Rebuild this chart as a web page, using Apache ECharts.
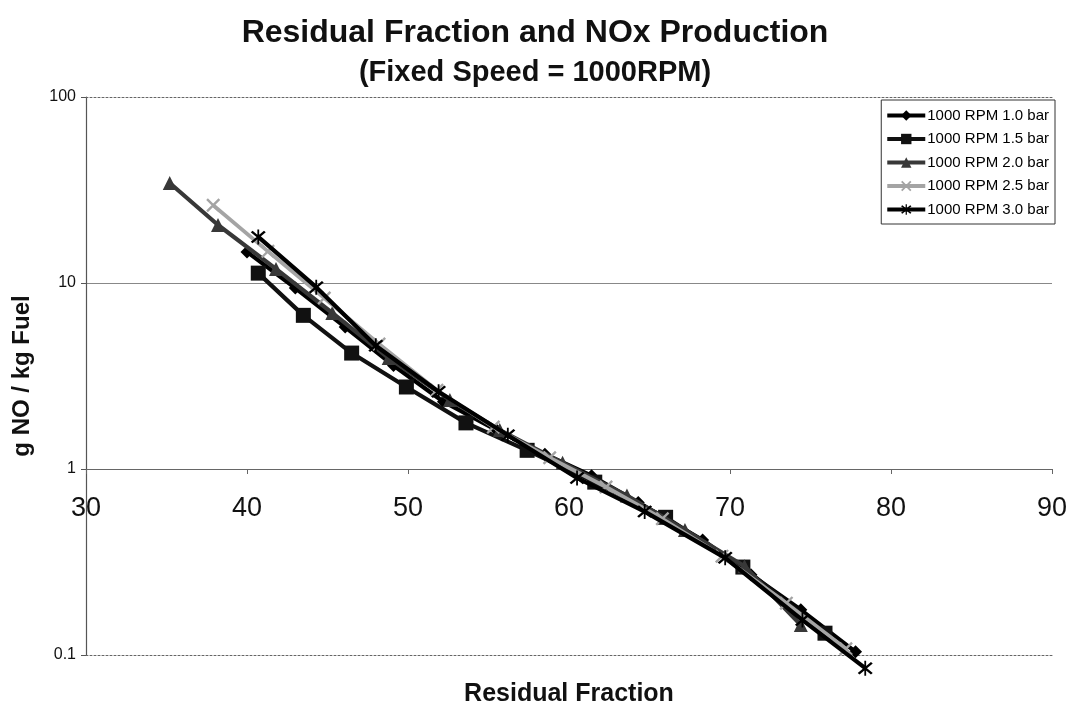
<!DOCTYPE html>
<html>
<head>
<meta charset="utf-8">
<script src="https://cdn.jsdelivr.net/npm/echarts@6/dist/echarts.min.js"></script>
<style>
  html, body { margin: 0; padding: 0; background: #fff; }
  #chart { width: 1070px; height: 709px; }
</style>
</head>
<body>
<div id="chart"></div>
<script>
// Residual fraction (%) and NOx (g NO / kg fuel) at 1000 RPM, one list per load
const seriesNames = ['1000 RPM 1.0 bar', '1000 RPM 1.5 bar', '1000 RPM 2.0 bar', '1000 RPM 2.5 bar', '1000 RPM 3.0 bar'];

const residual_10 = [40.0, 43.0, 46.1, 49.1, 52.2, 55.5, 58.5, 61.4, 64.3, 68.3, 71.3, 74.4, 77.8];
const nox_10      = [14.7, 9.4, 5.8, 3.6, 2.3, 1.62, 1.2, 0.92, 0.66, 0.415, 0.27, 0.175, 0.104];

const residual_15 = [40.7, 43.5, 46.5, 49.9, 53.6, 57.4, 61.6, 66.0, 70.8, 75.9];
const nox_15      = [11.3, 6.7, 4.2, 2.76, 1.77, 1.26, 0.85, 0.55, 0.297, 0.131];

const residual_20 = [35.2, 38.2, 41.8, 45.3, 48.8, 52.6, 55.7, 59.6, 63.6, 67.2, 70.9, 74.4];
const nox_20      = [34.5, 20.5, 11.9, 6.9, 3.95, 2.35, 1.62, 1.08, 0.72, 0.47, 0.3, 0.145];

const residual_25 = [37.9, 41.3, 44.8, 48.2, 51.8, 55.3, 58.8, 62.3, 65.8, 69.5, 73.5, 77.2];
const nox_25      = [26.2, 14.8, 8.3, 4.7, 2.65, 1.68, 1.15, 0.8, 0.54, 0.34, 0.19, 0.108];

const residual_30 = [40.7, 44.3, 48.0, 51.9, 56.2, 60.5, 64.7, 69.7, 74.5, 78.4];
const nox_30      = [17.7, 9.5, 4.6, 2.6, 1.52, 0.895, 0.59, 0.333, 0.154, 0.085];

const xTicks = [30, 40, 50, 60, 70, 80, 90];
const yTicks = [0.1, 1, 10, 100];

const FONT = '"Liberation Sans", Arial, sans-serif';

// marker shapes for the cross and asterisk styles
const crossPath = 'path://M0,1.2 L1.2,0 L10,8.8 L8.8,10 Z M8.8,0 L10,1.2 L1.2,10 L0,8.8 Z';
const starPath = 'path://M0,1.2 L1.2,0 L10,8.8 L8.8,10 Z M8.8,0 L10,1.2 L1.2,10 L0,8.8 Z M4.4,-1 L5.6,-1 L5.6,11 L4.4,11 Z';

function pairs(xs, ys) {
  return xs.map((x, i) => [x, ys[i]]);
}

const styles = [
  { color: '#000000', symbol: 'diamond', size: 13, width: 4.2 },
  { color: '#111111', symbol: 'rect', size: 15, width: 4.2 },
  { color: '#383838', symbol: 'triangle', size: 14, width: 4.2 },
  { color: '#a4a4a4', symbol: crossPath, size: 14, width: 3.8 },
  { color: '#000000', symbol: starPath, size: 15, width: 4.2 }
];

const dataSets = [
  pairs(residual_10, nox_10),
  pairs(residual_15, nox_15),
  pairs(residual_20, nox_20),
  pairs(residual_25, nox_25),
  pairs(residual_30, nox_30)
];

const series = dataSets.map((d, i) => ({
  name: seriesNames[i],
  type: 'line',
  xAxisIndex: 0,
  yAxisIndex: 0,
  data: d,
  clip: false,
  symbol: styles[i].symbol,
  symbolSize: styles[i].size,
  showAllSymbol: true,
  lineStyle: { color: styles[i].color, width: styles[i].width },
  itemStyle: { color: styles[i].color, borderWidth: 0 },
  emphasis: { disabled: true },
  animation: false,
  z: 3 + i
}));

const chart = echarts.init(document.getElementById('chart'), null, { renderer: 'canvas' });

const gridLeft = 86, gridTop = 97, gridRight = 18, gridBottom = 54;
const plotHeight = 709 - gridTop - gridBottom;

chart.setOption({
  backgroundColor: '#ffffff',
  animation: false,
  title: [
    {
      text: 'Residual Fraction and NOx Production',
      left: 'center',
      top: 12,
      textStyle: { fontFamily: FONT, fontSize: 32, fontWeight: 'bold', color: '#111' }
    },
    {
      text: '(Fixed Speed = 1000RPM)',
      left: 'center',
      top: 53,
      textStyle: { fontFamily: FONT, fontSize: 29, fontWeight: 'bold', color: '#111' }
    }
  ],
  legend: {
    orient: 'vertical',
    right: 15,
    top: 100,
    padding: [8, 6, 7, 4],
    itemWidth: 38,
    itemHeight: 13,
    itemGap: 8.5,
    backgroundColor: '#fff',
    borderColor: '#333',
    borderWidth: 1,
    borderRadius: 0,
    lineStyle: { width: 4 },
    textStyle: { fontFamily: FONT, fontSize: 15, color: '#000', padding: [0, 0, 0, -3] },
    data: seriesNames
  },
  grid: {
    left: gridLeft,
    top: gridTop,
    right: gridRight,
    bottom: gridBottom,
    containLabel: false,
    outerBoundsMode: 'none'
  },
  xAxis: [
    {
      // labelled axis crossing the value axis at 1
      type: 'value',
      position: 'bottom',
      offset: -plotHeight / 3,
      min: xTicks[0],
      max: xTicks[xTicks.length - 1],
      interval: 10,
      name: 'Residual Fraction',
      nameLocation: 'middle',
      nameGap: plotHeight / 3 + 27,
      nameTextStyle: { fontFamily: FONT, fontSize: 25, fontWeight: 'bold', color: '#111' },
      axisLine: { show: true, lineStyle: { color: '#666', width: 1 } },
      axisTick: { show: true, inside: false, length: 5, lineStyle: { color: '#666' } },
      axisLabel: { fontFamily: FONT, fontSize: 27, color: '#111', margin: 26 },
      splitLine: { show: false }
    },
    {
      // dotted lower border of the plot
      type: 'value',
      position: 'bottom',
      min: xTicks[0],
      max: xTicks[xTicks.length - 1],
      axisLine: { show: true, lineStyle: { color: '#666', width: 1, type: [2, 2] } },
      axisTick: { show: false },
      axisLabel: { show: false },
      splitLine: { show: false }
    },
    {
      // dotted upper border of the plot
      type: 'value',
      position: 'top',
      min: xTicks[0],
      max: xTicks[xTicks.length - 1],
      axisLine: { show: true, lineStyle: { color: '#666', width: 1, type: [2, 2] } },
      axisTick: { show: false },
      axisLabel: { show: false },
      splitLine: { show: false }
    }
  ],
  yAxis: {
    type: 'log',
    logBase: 10,
    min: yTicks[0],
    max: yTicks[yTicks.length - 1],
    name: 'g NO / kg Fuel',
    nameLocation: 'middle',
    nameGap: 52,
    nameRotate: 90,
    nameTextStyle: { fontFamily: FONT, fontSize: 24, fontWeight: 'bold', color: '#111' },
    axisLine: { show: true, lineStyle: { color: '#555', width: 1.2 } },
    axisTick: { show: true, inside: false, length: 5, lineStyle: { color: '#555' } },
    axisLabel: {
      fontFamily: FONT, fontSize: 16, color: '#111', margin: 10,
      formatter: v => String(+v.toPrecision(3))
    },
    splitLine: { show: true, showMinLine: false, showMaxLine: false, lineStyle: { color: '#888', width: 1 } },
    minorTick: { show: false },
    minorSplitLine: { show: false }
  },
  series: series
});
</script>
</body>
</html>
